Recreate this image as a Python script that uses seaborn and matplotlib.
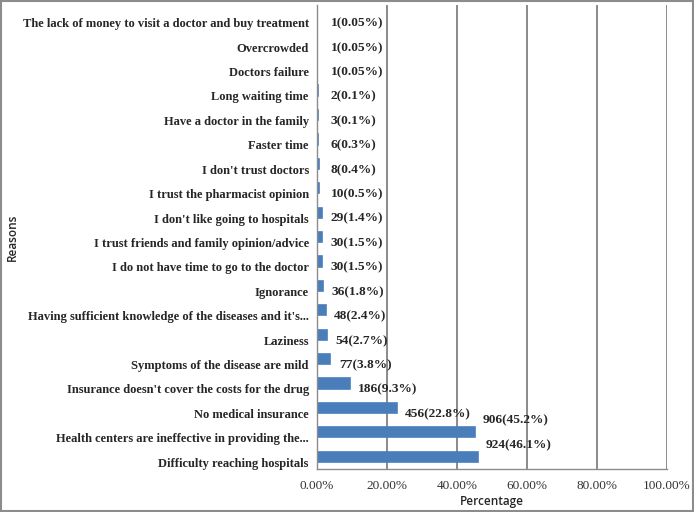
import pandas as pd
import matplotlib.pyplot as plt
import seaborn as sns
from matplotlib.ticker import FixedLocator

# reasons, top to bottom as in the chart
reasons = [
    "The lack of money to visit a doctor and buy treatment",
    "Overcrowded",
    "Doctors failure",
    "Long waiting time",
    "Have a doctor in the family",
    "Faster time",
    "I don't trust doctors",
    "I trust the pharmacist opinion",
    "I don't like going to hospitals",
    "I trust friends and family opinion/advice",
    "I do not have time to go to the doctor",
    "Ignorance",
    "Having sufficient knowledge of the diseases and it's...",
    "Laziness",
    "Symptoms of the disease are mild",
    "Insurance doesn't cover the costs for the drug",
    "No medical insurance",
    "Health centers are ineffective in providing the...",
    "Difficulty reaching hospitals",
]
counts = [1, 1, 1, 2, 3, 6, 8, 10, 29, 30, 30, 36, 48, 54, 77, 186, 456, 906, 924]
percents = [0.05, 0.05, 0.05, 0.1, 0.1, 0.3, 0.4, 0.5, 1.4, 1.5, 1.5, 1.8, 2.4, 2.7, 3.8, 9.3, 22.8, 45.2, 46.1]
pct_text = ["0.05", "0.05", "0.05", "0.1", "0.1", "0.3", "0.4", "0.5", "1.4", "1.5", "1.5", "1.8",
            "2.4", "2.7", "3.8", "9.3", "22.8", "45.2", "46.1"]

df = pd.DataFrame({"Reasons": reasons, "Percentage": percents})

sns.set_style("white")
plt.rcParams['font.family'] = ['Liberation Serif', 'DejaVu Serif']

fig, ax = plt.subplots(figsize=(6.94, 5.12), dpi=100)
fig.subplots_adjust(left=0.457, right=0.961, top=0.99, bottom=0.084)

sns.barplot(data=df, x="Percentage", y="Reasons", order=reasons, orient="h",
            color="#4a7ebb", edgecolor="#4a7ebb", linewidth=1.2, width=0.42,
            saturation=1, ax=ax)

ax.set_xlim(0, 100)
ax.set_ylim(len(reasons) - 0.5, -0.5)
ax.set_xticks([0, 20, 40, 60, 80, 100])
ax.set_xticklabels(["%.2f%%" % t for t in [0, 20, 40, 60, 80, 100]], fontsize=9.5, color="#333333")
ax.xaxis.grid(True, color="#8a8a8a", linewidth=1.4)
ax.set_axisbelow(True)

# category labels sit a little below the bar centres, like the Excel original
ax.set_yticks([i + 0.22 for i in range(len(reasons))])
ax.set_yticklabels(reasons, fontsize=9.0, fontweight="bold")
ax.yaxis.set_minor_locator(FixedLocator([i - 0.5 for i in range(len(reasons) + 1)]))
ax.tick_params(axis="y", which="major", length=0, pad=6)
ax.tick_params(axis="y", which="minor", length=5, color="#8c8c8c", width=1)
ax.tick_params(axis="x", length=5, color="#8c8c8c", width=1, pad=3)

for s in ["top", "right"]:
    ax.spines[s].set_visible(False)
for s in ["left", "bottom"]:
    ax.spines[s].set_color("#8c8c8c")
    ax.spines[s].set_linewidth(1)

ax.set_xlabel("Percentage", fontsize=8.5, fontfamily="Open Sans", fontweight="semibold", labelpad=2)
ax.set_ylabel("Reasons", fontsize=8.5, fontfamily="Open Sans", fontweight="semibold")
ax.yaxis.set_label_coords(-0.852, 0.5)

for i, (c, p, t) in enumerate(zip(counts, percents, pct_text)):
    lbl = "%d(%s%%)" % (c, t)
    if p > 40:
        ax.text(p + 2, i - 0.48, lbl, va="center", ha="left", fontsize=9.6, fontweight="bold")
    else:
        ax.text(max(p, 1.5) + 2.4, i + 0.25, lbl, va="center", ha="left", fontsize=9.6, fontweight="bold")

fig.patches.append(plt.Rectangle((0.001, 0.001), 0.998, 0.998, transform=fig.transFigure,
                                 fill=False, edgecolor="#8c8c8c", linewidth=1.5))

plt.savefig("out.png", dpi=100)
